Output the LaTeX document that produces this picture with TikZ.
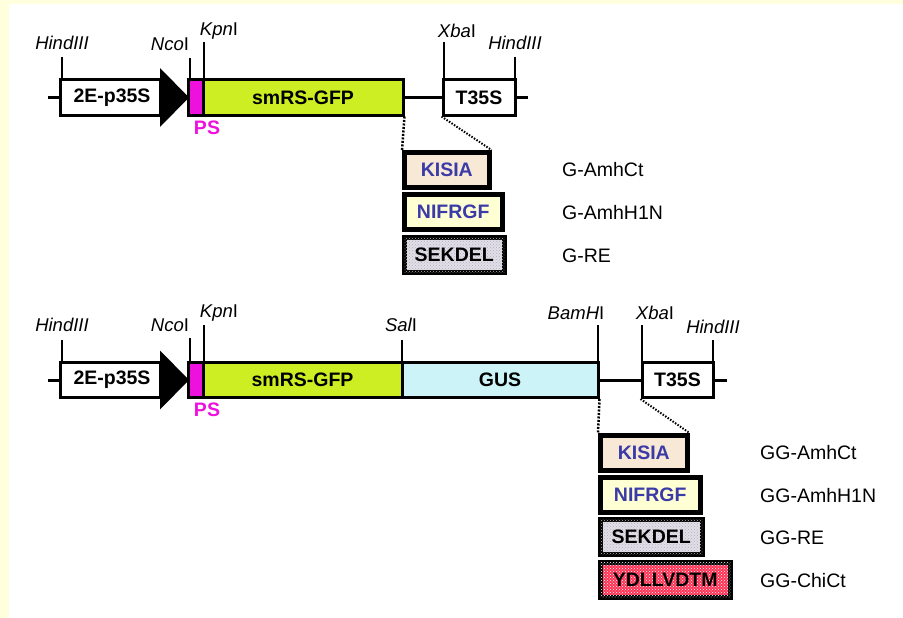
\documentclass[tikz,border=0pt]{standalone}
\usepackage{fontspec}
\setmainfont{Liberation Sans}
\usetikzlibrary{patterns}
\definecolor{bgy}{HTML}{FFFFDD}
\definecolor{gfpgreen}{HTML}{CCEE22}
\definecolor{guscyan}{HTML}{CCF4F8}
\definecolor{psmag}{HTML}{EE11DD}
\definecolor{tagblue}{HTML}{3B3BA8}
\definecolor{kisiafill}{HTML}{F8E8D6}
\definecolor{nifrgffill}{HTML}{FFFFD4}
\definecolor{sekdelfill}{HTML}{E2DEEA}
\definecolor{ydlfill}{HTML}{FF3355}
\begin{document}
\begin{tikzpicture}[x=1pt,y=-1pt,
  seg/.style={draw, line width=3pt, inner sep=0pt, minimum height=35pt, font=\fontsize{19.5}{21}\selectfont\bfseries},
  boxtext/.style={inner sep=0pt, font=\fontsize{19.5}{21}\selectfont\bfseries},
  tagbox/.style={draw, line width=4.5pt, inner sep=0pt, minimum height=35pt, anchor=north west, font=\fontsize{19.5}{21}\selectfont\bfseries},
  site/.style={inner sep=0pt, font=\fontsize{18.5}{21}\selectfont},
  taglabel/.style={inner sep=0pt, anchor=west, font=\fontsize{19.5}{21}\selectfont},
  backbone/.style={line width=3pt},
  tickline/.style={line width=1.5pt},
  dotv/.style={line width=2.5pt, dash pattern=on 2pt off 1.5pt},
  dotd/.style={line width=2pt, dash pattern=on 1.5pt off 1.5pt},
]
\useasboundingbox (0,0) rectangle (903,618);
\fill[bgy] (0,0) rectangle (903,4);
\fill[bgy] (0,0) rectangle (9,618);

% ================= top construct =================
\coordinate (lA) at (48,97.5);
\coordinate (rA) at (528,97.5);
\node[seg, minimum width=100pt] (pA) at (110,97.5) {};
\node[seg, fill=psmag, minimum width=15pt] (psA) at (195.5,97.5) {};
\node[seg, fill=gfpgreen, minimum width=200pt] (gfpA) at (303,97.5) {smRS-GFP};
\node[seg, minimum width=72pt] (tA) at (479,97.5) {T35S};
\draw[backbone] (lA) -- (pA.west);
\draw[backbone] (gfpA.east) -- (tA.west);
\draw[backbone] (tA.east) -- (rA);
\fill (160,68) -- (189,97.5) -- (160,127) -- cycle;
\node[boxtext] at (112,97.5) {2E-p35S};
\node[boxtext, text=psmag] (psLA) at (207,128) {PS};

\coordinate (t1A) at (62,57);
\coordinate (t2A) at (190,58);
\coordinate (t3A) at (204,42);
\coordinate (t4A) at (444,42);
\coordinate (t5A) at (515,57);
\draw[tickline] (t1A) -- (t1A |- pA.north);
\draw[tickline] (t2A) -- (t2A |- psA.north);
\draw[tickline] (t3A) -- (t3A |- gfpA.north);
\draw[tickline] (t4A) -- (t4A |- tA.north);
\draw[tickline] (t5A) -- (t5A |- tA.north);
\node[site] (s1A) at (62,43) {\itshape HindIII};
\node[site] (s2A) at (170,44) {\itshape Nco\upshape I};
\node[site] (s3A) at (219,31) {\itshape Kpn\upshape I};
\node[site] (s4A) at (457,31) {\itshape Xba\upshape I};
\node[site] (s5A) at (515,43) {\itshape HindIII};

\node[tagbox, fill=kisiafill, text=tagblue, minimum width=85pt] (k1) at (402,150) {KISIA};
\node[tagbox, fill=nifrgffill, text=tagblue, minimum width=98pt] (n1) at (402,192) {NIFRGF};
\node[tagbox, fill=sekdelfill, postaction={pattern=crosshatch dots, pattern color=gray!60}, minimum width=100pt] (e1) at (402,235) {};
\node[boxtext] at (e1.center) {SEKDEL};
\draw[dotv] (gfpA.south east) -- (k1.north west);
\draw[dotd] (tA.south west) -- (k1.north east);
\node[taglabel] (g1) at (562,170) {G-AmhCt};
\node[taglabel] (g2) at (562,213) {G-AmhH1N};
\node[taglabel] (g3) at (562,256) {G-RE};

% ================= bottom construct =================
\coordinate (lB) at (48,380);
\coordinate (rB) at (727,380);
\node[seg, minimum width=100pt] (pB) at (110,380) {};
\node[seg, fill=psmag, minimum width=15pt] (psB) at (195.5,380) {};
\node[seg, fill=gfpgreen, minimum width=199pt] (gfpB) at (302.5,380) {smRS-GFP};
\node[seg, fill=guscyan, minimum width=196pt] (gusB) at (500,380) {GUS};
\node[seg, minimum width=71pt] (tB) at (677.5,380) {T35S};
\draw[backbone] (lB) -- (pB.west);
\draw[backbone] (gusB.east) -- (tB.west);
\draw[backbone] (tB.east) -- (rB);
\fill (160,350.5) -- (189,380) -- (160,409.5) -- cycle;
\node[boxtext] at (112,380) {2E-p35S};
\node[boxtext, text=psmag] (psLB) at (207,410) {PS};

\coordinate (t1B) at (62,340);
\coordinate (t2B) at (190,338);
\coordinate (t3B) at (204,325);
\coordinate (t4B) at (402,340);
\coordinate (t5B) at (598,325);
\coordinate (t6B) at (642,325);
\coordinate (t7B) at (713,340);
\draw[tickline] (t1B) -- (t1B |- pB.north);
\draw[tickline] (t2B) -- (t2B |- psB.north);
\draw[tickline] (t3B) -- (t3B |- gfpB.north);
\draw[tickline] (t4B) -- (t4B |- gusB.north);
\draw[tickline] (t5B) -- (t5B |- gusB.north);
\draw[tickline] (t6B) -- (t6B |- tB.north);
\draw[tickline] (t7B) -- (t7B |- tB.north);
\node[site] (s1B) at (62,325) {\itshape HindIII};
\node[site] (s2B) at (170,325) {\itshape Nco\upshape I};
\node[site] (s3B) at (219,313) {\itshape Kpn\upshape I};
\node[site] (s4B) at (401,325) {\itshape Sal\upshape I};
\node[site] (s5B) at (576,313) {\itshape BamH\upshape I};
\node[site] (s6B) at (655,313) {\itshape Xba\upshape I};
\node[site] (s7B) at (713,327) {\itshape HindIII};

\node[tagbox, fill=kisiafill, text=tagblue, minimum width=87pt] (k2) at (598,433) {KISIA};
\node[tagbox, fill=nifrgffill, text=tagblue, minimum width=100pt] (n2) at (598,475) {NIFRGF};
\node[tagbox, fill=sekdelfill, postaction={pattern=crosshatch dots, pattern color=gray!60}, minimum width=102pt] (e2) at (598,517) {};
\node[boxtext] at (e2.center) {SEKDEL};
\node[tagbox, fill=ydlfill, postaction={pattern=crosshatch dots, pattern color=white}, minimum width=130pt] (y2) at (598,560) {};
\node[boxtext] at (y2.center) {YDLLVDTM};
\draw[dotv] (gusB.south east) -- (k2.north west);
\draw[dotd] (tB.south west) -- (k2.north east);
\node[taglabel] (h1) at (760,453) {GG-AmhCt};
\node[taglabel] (h2) at (760,496) {GG-AmhH1N};
\node[taglabel] (h3) at (760,538) {GG-RE};
\node[taglabel] (h4) at (760,581) {GG-ChiCt};
\end{tikzpicture}
\end{document}
